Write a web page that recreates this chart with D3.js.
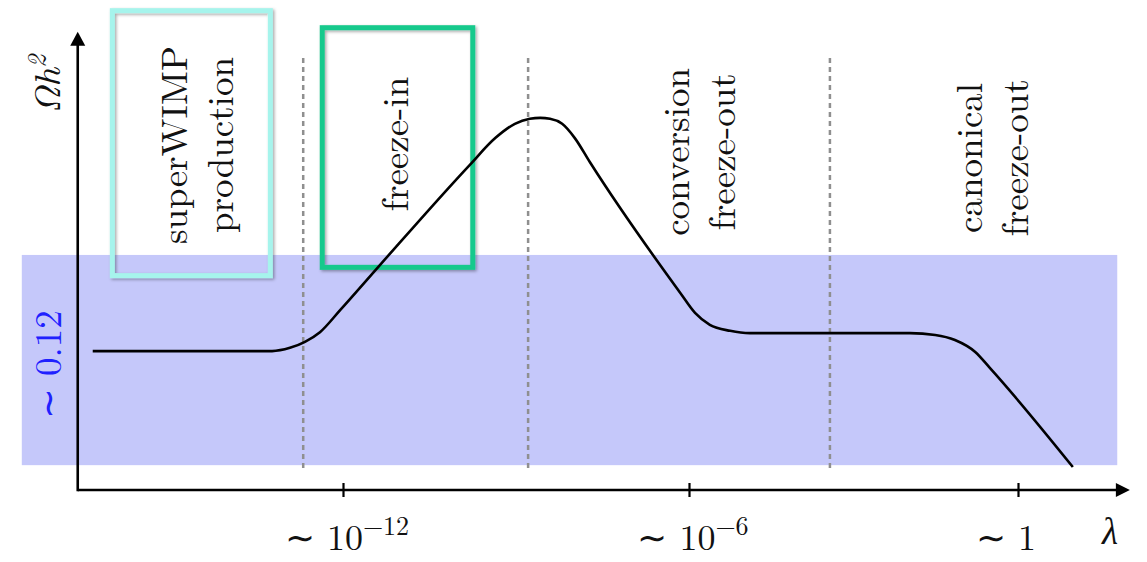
<!DOCTYPE html>
<html>
<head>
<meta charset="utf-8">
<script src="https://cdn.jsdelivr.net/npm/d3@7"></script>
<style>
  body { margin: 0; background: #fff; }
</style>
</head>
<body>
<div id="chart"></div>
<script>
// Schematic relic abundance vs coupling (log10 lambda on x, arbitrary units on y)
const curveLogLambda = [-16.34, -13.23, -12.92, -12.66, -12.40, -12.05, -11.36, -9.80, -9.36, -9.02,
  -8.76, -8.58, -8.41, -8.20, -7.98, -7.72, -6.16, -5.89, -5.62, -5.25, -4.89, -3.98, -1.97,
  -1.51, -1.15, -0.78, -0.51, 1.00];
const curveOmega = [3.02, 3.02, 3.09, 3.22, 3.43, 3.91, 4.89, 7.07, 7.65, 7.96,
  8.07, 8.09, 8.07, 7.96, 7.65, 7.13, 4.30, 3.85, 3.59, 3.46, 3.41, 3.41, 3.41,
  3.37, 3.26, 3.00, 2.65, 0.50];

// observed band (~0.12)
const bandLambda = [-17.57, 1.81];
const bandOmega = [0.54, 5.11];

// regime boundaries (dashed) and labels
const boundaries = [-12.69, -8.79, -3.43];
const regionLines = [["superWIMP", "production"], ["freeze-in"], ["conversion", "freeze-out"], ["canonical", "freeze-out"]];
const regionLambda = [-14.31, -10.87, -5.58, -0.24];
const regionOmega = [7.5, 7.52, 7.35, 7.22];

// highlighted boxes
const boxLambda = [[-16.00, -13.26], [-12.36, -9.75]];
const boxOmega = [[4.66, 10.42], [4.84, 10.05]];
const boxColors = ["#a6f4ec", "#17c98c"];

// x ticks
const tickValues = [-12, -6, 0];
const tickBase = ["10", "10", "1"];
const tickExp = ["\u221212", "\u22126", ""];

const width = 1147, height = 562;
const serif = '"Latin Modern Roman"';

const x = d3.scaleLinear().domain([-12, -6, 0]).range([343, 689, 1018]);
const y = d3.scaleLinear().domain([0, 10]).range([490, 30]);

const svg = d3.select("#chart").append("svg")
  .attr("width", width)
  .attr("height", height);

const defs = svg.append("defs");
defs.append("filter").attr("id", "shadow")
  .attr("x", "-10%").attr("y", "-10%").attr("width", "120%").attr("height", "120%")
  .append("feDropShadow")
  .attr("dx", 1.5).attr("dy", 1.5).attr("stdDeviation", 1.5)
  .attr("flood-color", "#000").attr("flood-opacity", 0.35);

// band
svg.append("rect")
  .attr("x", x(bandLambda[0]))
  .attr("y", y(bandOmega[1]))
  .attr("width", x(bandLambda[1]) - x(bandLambda[0]))
  .attr("height", y(bandOmega[0]) - y(bandOmega[1]))
  .attr("fill", "#c5c8fa");

// dashed boundaries
svg.selectAll(".bound")
  .data(boundaries)
  .enter()
  .append("line")
  .attr("class", "bound")
  .attr("x1", d => x(d)).attr("x2", d => x(d))
  .attr("y1", y(9.39)).attr("y2", y(0.48))
  .attr("stroke", "#8f8f8f")
  .attr("stroke-width", 2.5)
  .attr("stroke-dasharray", "5,4");

// boxes
boxLambda.forEach((b, i) => {
  svg.append("rect")
    .attr("x", x(b[0]))
    .attr("y", y(boxOmega[i][1]))
    .attr("width", x(b[1]) - x(b[0]))
    .attr("height", y(boxOmega[i][0]) - y(boxOmega[i][1]))
    .attr("fill", "none")
    .attr("stroke", boxColors[i])
    .attr("stroke-width", 5)
    .attr("filter", "url(#shadow)");
});

// region labels (rotated)
regionLines.forEach((lines, i) => {
  const cx = x(regionLambda[i]);
  const cy = y(regionOmega[i]);
  const gap = 46;
  lines.forEach((t, j) => {
    const off = (j - (lines.length - 1) / 2) * gap;
    svg.append("text")
      .attr("transform", `translate(${cx + off},${cy}) rotate(-90)`)
      .attr("text-anchor", "middle")
      .attr("font-size", 37)
      .style("font-family", serif)
      .attr("fill", "#111")
      .text(t);
  });
});

// curve
const pts = curveLogLambda.map((l, i) => [l, curveOmega[i]]);
svg.append("path")
  .datum(pts)
  .attr("fill", "none")
  .attr("stroke", "#000")
  .attr("stroke-width", 2.6)
  .attr("d", d3.line().x(d => x(d[0])).y(d => y(d[1])).curve(d3.curveMonotoneX));

// axes
const x0 = x(-16.6), yAxisY = y(0);
svg.append("line")
  .attr("x1", x0).attr("x2", x(1.85))
  .attr("y1", yAxisY).attr("y2", yAxisY)
  .attr("stroke", "#000").attr("stroke-width", 2.6);
svg.append("line")
  .attr("x1", x0).attr("x2", x0)
  .attr("y1", yAxisY + 1.3).attr("y2", y(9.7))
  .attr("stroke", "#000").attr("stroke-width", 2.6);
// arrowheads
const xt = x(2.04);
svg.append("path")
  .attr("d", `M${xt},${yAxisY} L${xt - 14},${yAxisY - 7} L${xt - 14},${yAxisY + 7} Z`)
  .attr("fill", "#000");
const yt = y(9.96);
svg.append("path")
  .attr("d", `M${x0},${yt} L${x0 - 7.5},${yt + 14} L${x0 + 7.5},${yt + 14} Z`)
  .attr("fill", "#000");

// ticks
const xAxis = svg.append("g")
  .attr("transform", `translate(0,${yAxisY - 7})`)
  .call(d3.axisBottom(x).tickValues(tickValues).tickSize(14).tickFormat(""));
xAxis.select(".domain").remove();
xAxis.selectAll(".tick line").attr("stroke", "#000").attr("stroke-width", 2.2);

// tick labels
tickValues.forEach((v, i) => {
  const t = svg.append("text")
    .attr("x", x(v) + (i === 2 ? -12 : 4))
    .attr("y", 550)
    .attr("text-anchor", "middle")
    .attr("font-size", 36)
    .style("font-family", serif)
    .attr("fill", "#111");
  t.append("tspan").text("\u223C ");
  t.append("tspan").text(tickBase[i]);
  if (tickExp[i]) {
    t.append("tspan").attr("dy", -15).attr("font-size", 26).text(tickExp[i]);
  }
});

// lambda label
svg.append("text")
  .attr("x", 1110).attr("y", 544)
  .attr("text-anchor", "middle")
  .attr("font-size", 37)
  .style("font-family", serif)
  .attr("font-style", "italic")
  .attr("fill", "#111")
  .text("\u03BB");

// y label Omega h^2
const yl = svg.append("text")
  .attr("transform", `translate(60,${y(8.83)}) rotate(-90)`)
  .attr("text-anchor", "middle")
  .attr("font-size", 37)
  .style("font-family", serif)
  .attr("font-style", "italic")
  .attr("fill", "#111");
yl.append("tspan").text("\u03A9h");
yl.append("tspan").attr("dy", -14).attr("font-size", 26).text("2");

// ~0.12 label
svg.append("text")
  .attr("transform", `translate(61,${y(2.72)}) rotate(-90)`)
  .attr("text-anchor", "middle")
  .attr("font-size", 37)
  .style("font-family", serif)
  .attr("fill", "#2020ff")
  .text("\u223C 0.12");
</script>
</body>
</html>
